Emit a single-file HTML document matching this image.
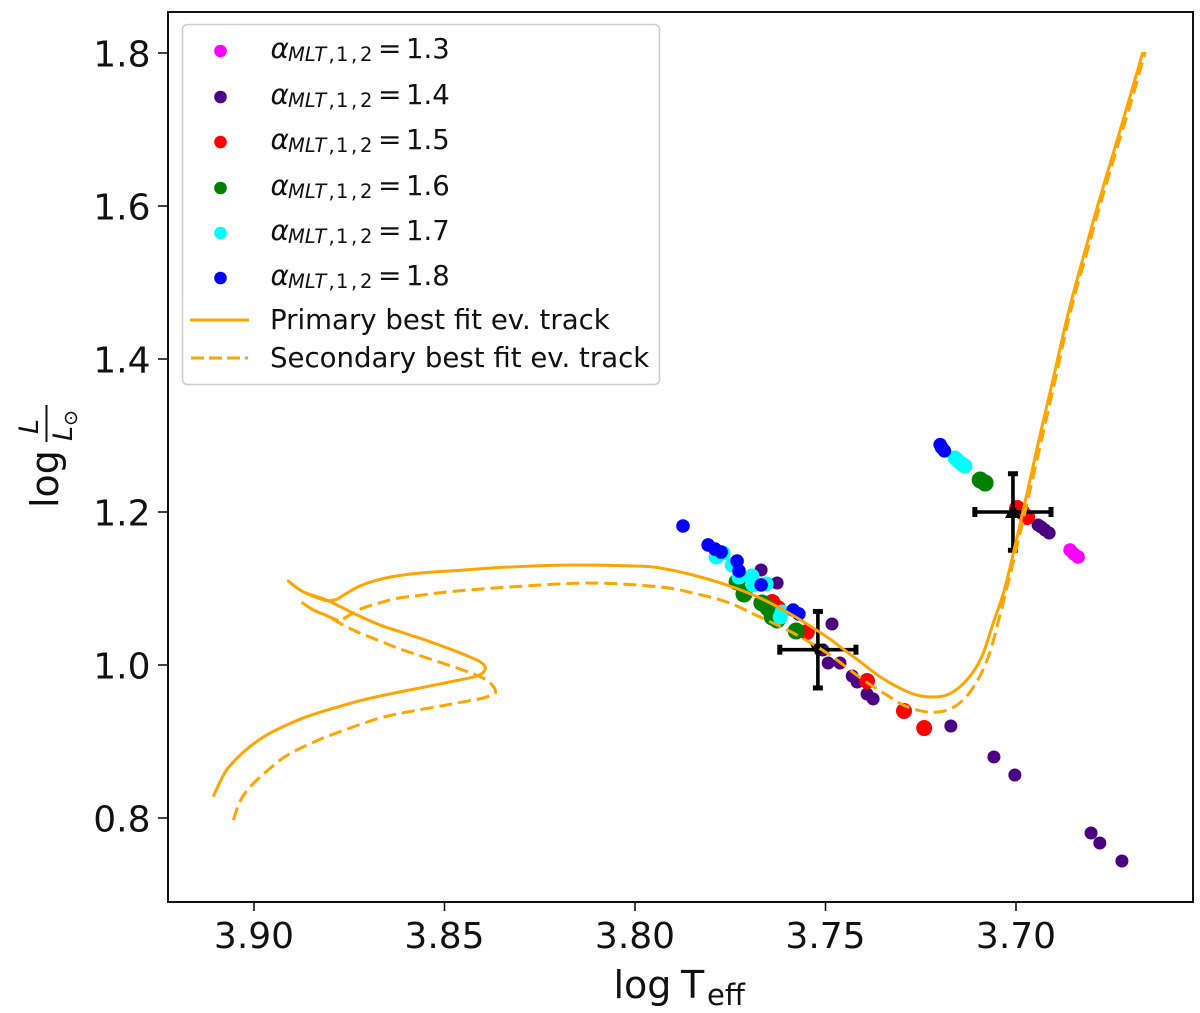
<!DOCTYPE html>
<html>
<head>
<meta charset="utf-8">
<title>HR diagram</title>
<style>
html,body{margin:0;padding:0;background:#fff;}
svg{display:block;}
text{font-family:"DejaVu Sans","Liberation Sans",sans-serif;fill:#111;}
</style>
</head>
<body>
<svg id="chart" xmlns="http://www.w3.org/2000/svg" width="1200" height="1013" viewBox="0 0 1200 1013">
  <rect x="0" y="0" width="1200" height="1013" fill="#fff"/>
  <g id="marks"></g>
  <rect x="168" y="12" width="1025" height="890" fill="none" stroke="#111" stroke-width="2"/>
  <g id="axes"></g>
  <g>
    <text transform="translate(58,508) rotate(-90)" font-size="38">log</text>
    <text transform="translate(38,434) rotate(-90)" font-size="27" font-style="italic">L</text>
    <rect x="45.5" y="405" width="2" height="37" fill="#111"/>
    <text transform="translate(72,441) rotate(-90)" font-size="27" font-style="italic">L</text>
    <circle cx="71" cy="418" r="5.5" fill="none" stroke="#111" stroke-width="1.5"/>
    <circle cx="71" cy="418" r="1" fill="#111"/>
  </g>
  <g>
    <text x="613.5" y="998" font-size="38">log</text>
    <text x="681" y="998" font-size="38">T</text>
    <text x="707" y="1005" font-size="29">eff</text>
  </g>
  <g id="legend"></g>
</svg>
<script>
var xTicks = [3.90, 3.85, 3.80, 3.75, 3.70];
var yTicks = [0.8, 1.0, 1.2, 1.4, 1.6, 1.8];

var primaryTeff = [3.9107,3.9089,3.9072,3.9045,3.9011,3.8967,3.8914,3.8862,3.8801,3.8730,3.8669,3.8598,3.8467,3.8415,3.8394,3.8399,3.8433,3.8538,3.8599,3.8669,3.8739,3.8805,3.8871,3.8910,3.8871,3.8822,3.8805,3.8783,3.8757,3.8722,3.8669,3.8609,3.8538,3.8467,3.8328,3.8171,3.8000,3.7934,3.7848,3.7759,3.7672,3.7585,3.7496,3.7462,3.7409,3.7357,3.7304,3.7261,3.7221,3.7182,3.7147,3.7112,3.7086,3.7060,3.7033,3.7011,3.6975,3.6940,3.6905,3.6861,3.6816,3.6783,3.6740,3.6701,3.6667];
var primaryLum = [0.8278,0.8474,0.8627,0.8780,0.8932,0.9085,0.9216,0.9324,0.9421,0.9523,0.9595,0.9667,0.9797,0.9856,0.9935,1.0013,1.0105,1.0305,1.0405,1.0523,1.0676,1.0841,1.0958,1.1098,1.0958,1.0859,1.0841,1.0859,1.0937,1.1033,1.1120,1.1176,1.1212,1.1235,1.1281,1.1307,1.1294,1.1268,1.1176,1.1046,1.0876,1.0647,1.0366,1.0239,1.0043,0.9847,0.9695,0.9608,0.9582,0.9608,0.9716,0.9912,1.0153,1.0545,1.0937,1.1373,1.2157,1.2941,1.3686,1.4641,1.5464,1.6052,1.6771,1.7425,1.8013];
var secondaryTeff = [3.9054,3.9041,3.9024,3.8997,3.8963,3.8923,3.8879,3.8835,3.8805,3.8722,3.8664,3.8598,3.8467,3.8399,3.8367,3.8375,3.8399,3.8467,3.8609,3.8669,3.8730,3.8774,3.8809,3.8844,3.8875,3.8844,3.8809,3.8774,3.8766,3.8722,3.8669,3.8625,3.8573,3.8538,3.8467,3.8328,3.8118,3.7934,3.7848,3.7759,3.7672,3.7585,3.7496,3.7436,3.7388,3.7339,3.7296,3.7252,3.7213,3.7173,3.7134,3.7103,3.7081,3.7064,3.7042,3.7020,3.7007,3.6969,3.6933,3.6899,3.6856,3.6810,3.6777,3.6734,3.6694,3.6661];
var secondaryLum = [0.7974,0.8170,0.8323,0.8474,0.8627,0.8788,0.8911,0.9010,0.9072,0.9222,0.9314,0.9386,0.9503,0.9569,0.9634,0.9739,0.9830,0.9961,1.0196,1.0314,1.0435,1.0545,1.0644,1.0719,1.0820,1.0719,1.0644,1.0575,1.0601,1.0728,1.0814,1.0872,1.0906,1.0928,1.0967,1.1020,1.1072,1.1020,1.0941,1.0824,1.0627,1.0418,1.0157,0.9935,0.9761,0.9608,0.9477,0.9403,0.9382,0.9425,0.9565,0.9782,1.0000,1.0239,1.0654,1.1089,1.1350,1.2157,1.2941,1.3686,1.4641,1.5464,1.6052,1.6771,1.7425,1.8013];

var mltValues = ["1.3","1.4","1.5","1.6","1.7","1.8"];
var teff13 = [3.6858,3.6848,3.6837];
var lum13 = [1.1503,1.1451,1.1412];
var teff14 = [3.7669,3.7627,3.7483,3.7507,3.7493,3.7462,3.7430,3.7417,3.7391,3.7375,3.7171,3.7058,3.7003,3.6803,3.6780,3.6722,3.6942,3.6934,3.6924,3.6913];
var lum14 = [1.1242,1.1072,1.0536,1.0196,1.0026,1.0026,0.9856,0.9778,0.9621,0.9556,0.9203,0.8797,0.8562,0.7804,0.7673,0.7438,1.1830,1.1804,1.1765,1.1725];
var teff15 = [3.7640,3.7625,3.7549,3.7391,3.7294,3.7241,3.6997,3.6984,3.6971];
var lum15 = [1.0824,1.0745,1.0431,0.9791,0.9399,0.9176,1.2052,1.2000,1.1935];
var teff16 = [3.7732,3.7714,3.7667,3.7651,3.7640,3.7627,3.7577,3.7094,3.7081];
var lum16 = [1.1085,1.0928,1.0810,1.0745,1.0627,1.0588,1.0444,1.2418,1.2379];
var teff17 = [3.7787,3.7769,3.7745,3.7727,3.7693,3.7690,3.7656,3.7614,3.7619,3.7160,3.7152,3.7142,3.7134];
var lum17 = [1.1412,1.1464,1.1307,1.1150,1.1163,1.1046,1.1059,1.0693,1.0627,1.2706,1.2667,1.2627,1.2601];
var teff18 = [3.7874,3.7808,3.7790,3.7774,3.7732,3.7727,3.7669,3.7585,3.7570,3.7199,3.7195,3.7188];
var lum18 = [1.1817,1.1569,1.1516,1.1477,1.1359,1.1229,1.1046,1.0719,1.0667,1.2880,1.2840,1.2800];

var starTeff = [3.7008,3.7520];
var starLum = [1.20,1.02];
var starTeffErr = [0.01,0.01];
var starLumErr = [0.05,0.05];

var NS = "http://www.w3.org/2000/svg";
function xScale(v){ return 635 + (3.80 - v) * 3810; }
function yScale(v){ return 665 - (v - 1.0) * 765; }
function make(tag, parent, attrs){
  var el = document.createElementNS(NS, tag);
  for (var k in attrs) el.setAttribute(k, attrs[k]);
  parent.appendChild(el);
  return el;
}
function smoothPath(xs, ys){
  var pts = xs.map(function(v,i){ return [xScale(v), yScale(ys[i])]; });
  var d = "M" + pts[0][0].toFixed(1) + " " + pts[0][1].toFixed(1);
  for (var i = 0; i < pts.length - 1; i++){
    var p0 = pts[Math.max(i-1,0)], p1 = pts[i], p2 = pts[i+1], p3 = pts[Math.min(i+2,pts.length-1)];
    var c1x = p1[0] + (p2[0]-p0[0])/6, c1y = p1[1] + (p2[1]-p0[1])/6;
    var c2x = p2[0] - (p3[0]-p1[0])/6, c2y = p2[1] - (p3[1]-p1[1])/6;
    d += "C" + c1x.toFixed(1) + " " + c1y.toFixed(1) + " " + c2x.toFixed(1) + " " + c2y.toFixed(1) + " " + p2[0].toFixed(1) + " " + p2[1].toFixed(1);
  }
  return d;
}

var marks = document.getElementById("marks");
var axes = document.getElementById("axes");
var legend = document.getElementById("legend");
var seriesTeff = [teff13, teff14, teff15, teff16, teff17, teff18];
var seriesLum = [lum13, lum14, lum15, lum16, lum17, lum18];
var seriesColor = ["#ff00ff", "#4b0082", "#ff0000", "#008000", "#00ffff", "#0000ff"];
var seriesRadius = [6.8, 6.5, 8, 8.5, 7.5, 6.8];

seriesTeff.forEach(function(ts, s){
  ts.forEach(function(t, i){
    var c = make("circle", marks, {cx: xScale(t), cy: yScale(seriesLum[s][i]), r: seriesRadius[s], fill: seriesColor[s]});
    
    
  });
});

starTeff.forEach(function(t, i){
  var cx = xScale(t), cy = yScale(starLum[i]);
  var x0 = xScale(t + starTeffErr[i]), x1 = xScale(t - starTeffErr[i]);
  var y0 = yScale(starLum[i] + starLumErr[i]), y1 = yScale(starLum[i] - starLumErr[i]);
  var g = make("g", marks, {stroke: "#000", "stroke-width": 3.6, fill: "none"});
  
  
  make("line", g, {x1: x0, x2: x1, y1: cy, y2: cy});
  make("line", g, {x1: cx, x2: cx, y1: y0, y2: y1});
  make("line", g, {x1: x0, x2: x0, y1: cy-5, y2: cy+5, "stroke-width": 5});
  make("line", g, {x1: x1, x2: x1, y1: cy-5, y2: cy+5, "stroke-width": 5});
  make("line", g, {x1: cx-5, x2: cx+5, y1: y0, y2: y0, "stroke-width": 5});
  make("line", g, {x1: cx-5, x2: cx+5, y1: y1, y2: y1, "stroke-width": 5});
  var tri = i === 0
    ? [[cx,cy-9],[cx-8,cy+6],[cx+8,cy+6]]
    : [[cx,cy+9],[cx-8,cy-6],[cx+8,cy-6]];
  var m = make("polygon", g, {points: tri.map(function(p){return p.join(",");}).join(" "), fill: "#000", stroke: "none"});
  
  
});

var primaryTrack = make("path", marks, {d: smoothPath(primaryTeff, primaryLum), fill: "none", stroke: "#ffa500", "stroke-width": 3, "stroke-linejoin": "round"});


var secondaryTrack = make("path", marks, {d: smoothPath(secondaryTeff, secondaryLum), fill: "none", stroke: "#ffa500", "stroke-width": 3, "stroke-dasharray": "13 6"});



xTicks.forEach(function(v){
  var x = xScale(v);
  var tick = make("line", axes, {x1: x, x2: x, y1: 902, y2: 911, stroke: "#111", "stroke-width": 1.6});
  
  
  var label = make("text", axes, {x: x, y: 948, "text-anchor": "middle", "font-size": 36});
  label.textContent = v.toFixed(2);
  
  
});
yTicks.forEach(function(v){
  var y = yScale(v);
  var tick = make("line", axes, {x1: 158, x2: 168, y1: y, y2: y, stroke: "#111", "stroke-width": 1.6});
  
  
  var label = make("text", axes, {x: 150.5, y: y + 13.5, "text-anchor": "end", "font-size": 36});
  label.textContent = v.toFixed(1);
  
  
});

var box = make("rect", legend, {x: 182.5, y: 24.5, width: 477, height: 360, rx: 5, fill: "#fff", "fill-opacity": 0.9, stroke: "#ccc", "stroke-width": 1.5});


var legendRowY = [51, 97, 142, 188, 233, 278];
mltValues.forEach(function(val, i){
  var y = legendRowY[i];
  var g = make("g", legend, {});
  
  
  make("circle", g, {cx: 220.5, cy: y, r: 6.3, fill: seriesColor[i]});
  var b = y + 7;
  var alpha = make("text", g, {x: 270.5, y: b, "font-size": 28, "font-style": "italic"});
  alpha.textContent = "\u03b1";
  var sub = make("text", g, {x: 288, y: b + 3, "font-size": 19.5, "font-style": "italic"});
  sub.textContent = "MLT";
  var c1 = make("text", g, {x: 328.5, y: b + 3, "font-size": 19.5});
  c1.textContent = ",";
  var one = make("text", g, {x: 336, y: b + 3, "font-size": 19.5});
  one.textContent = "1";
  var c2 = make("text", g, {x: 351, y: b + 3, "font-size": 19.5});
  c2.textContent = ",";
  var two = make("text", g, {x: 360, y: b + 3, "font-size": 19.5});
  two.textContent = "2";
  var eq = make("text", g, {x: 378, y: b, "font-size": 28});
  eq.textContent = "=";
  var num = make("text", g, {x: 406, y: b, "font-size": 27.5});
  num.textContent = val;
});
var lineA = make("line", legend, {x1: 190, x2: 249, y1: 320, y2: 320, stroke: "#ffa500", "stroke-width": 3});


var textA = make("text", legend, {x: 270, y: 329, "font-size": 27.6});
textA.textContent = "Primary best fit ev. track";


var lineB = make("line", legend, {x1: 191, x2: 248, y1: 358, y2: 358, stroke: "#ffa500", "stroke-width": 3, "stroke-dasharray": "13 5"});


var textB = make("text", legend, {x: 270, y: 367, "font-size": 27.6});
textB.textContent = "Secondary best fit ev. track";


</script>
</body>
</html>
